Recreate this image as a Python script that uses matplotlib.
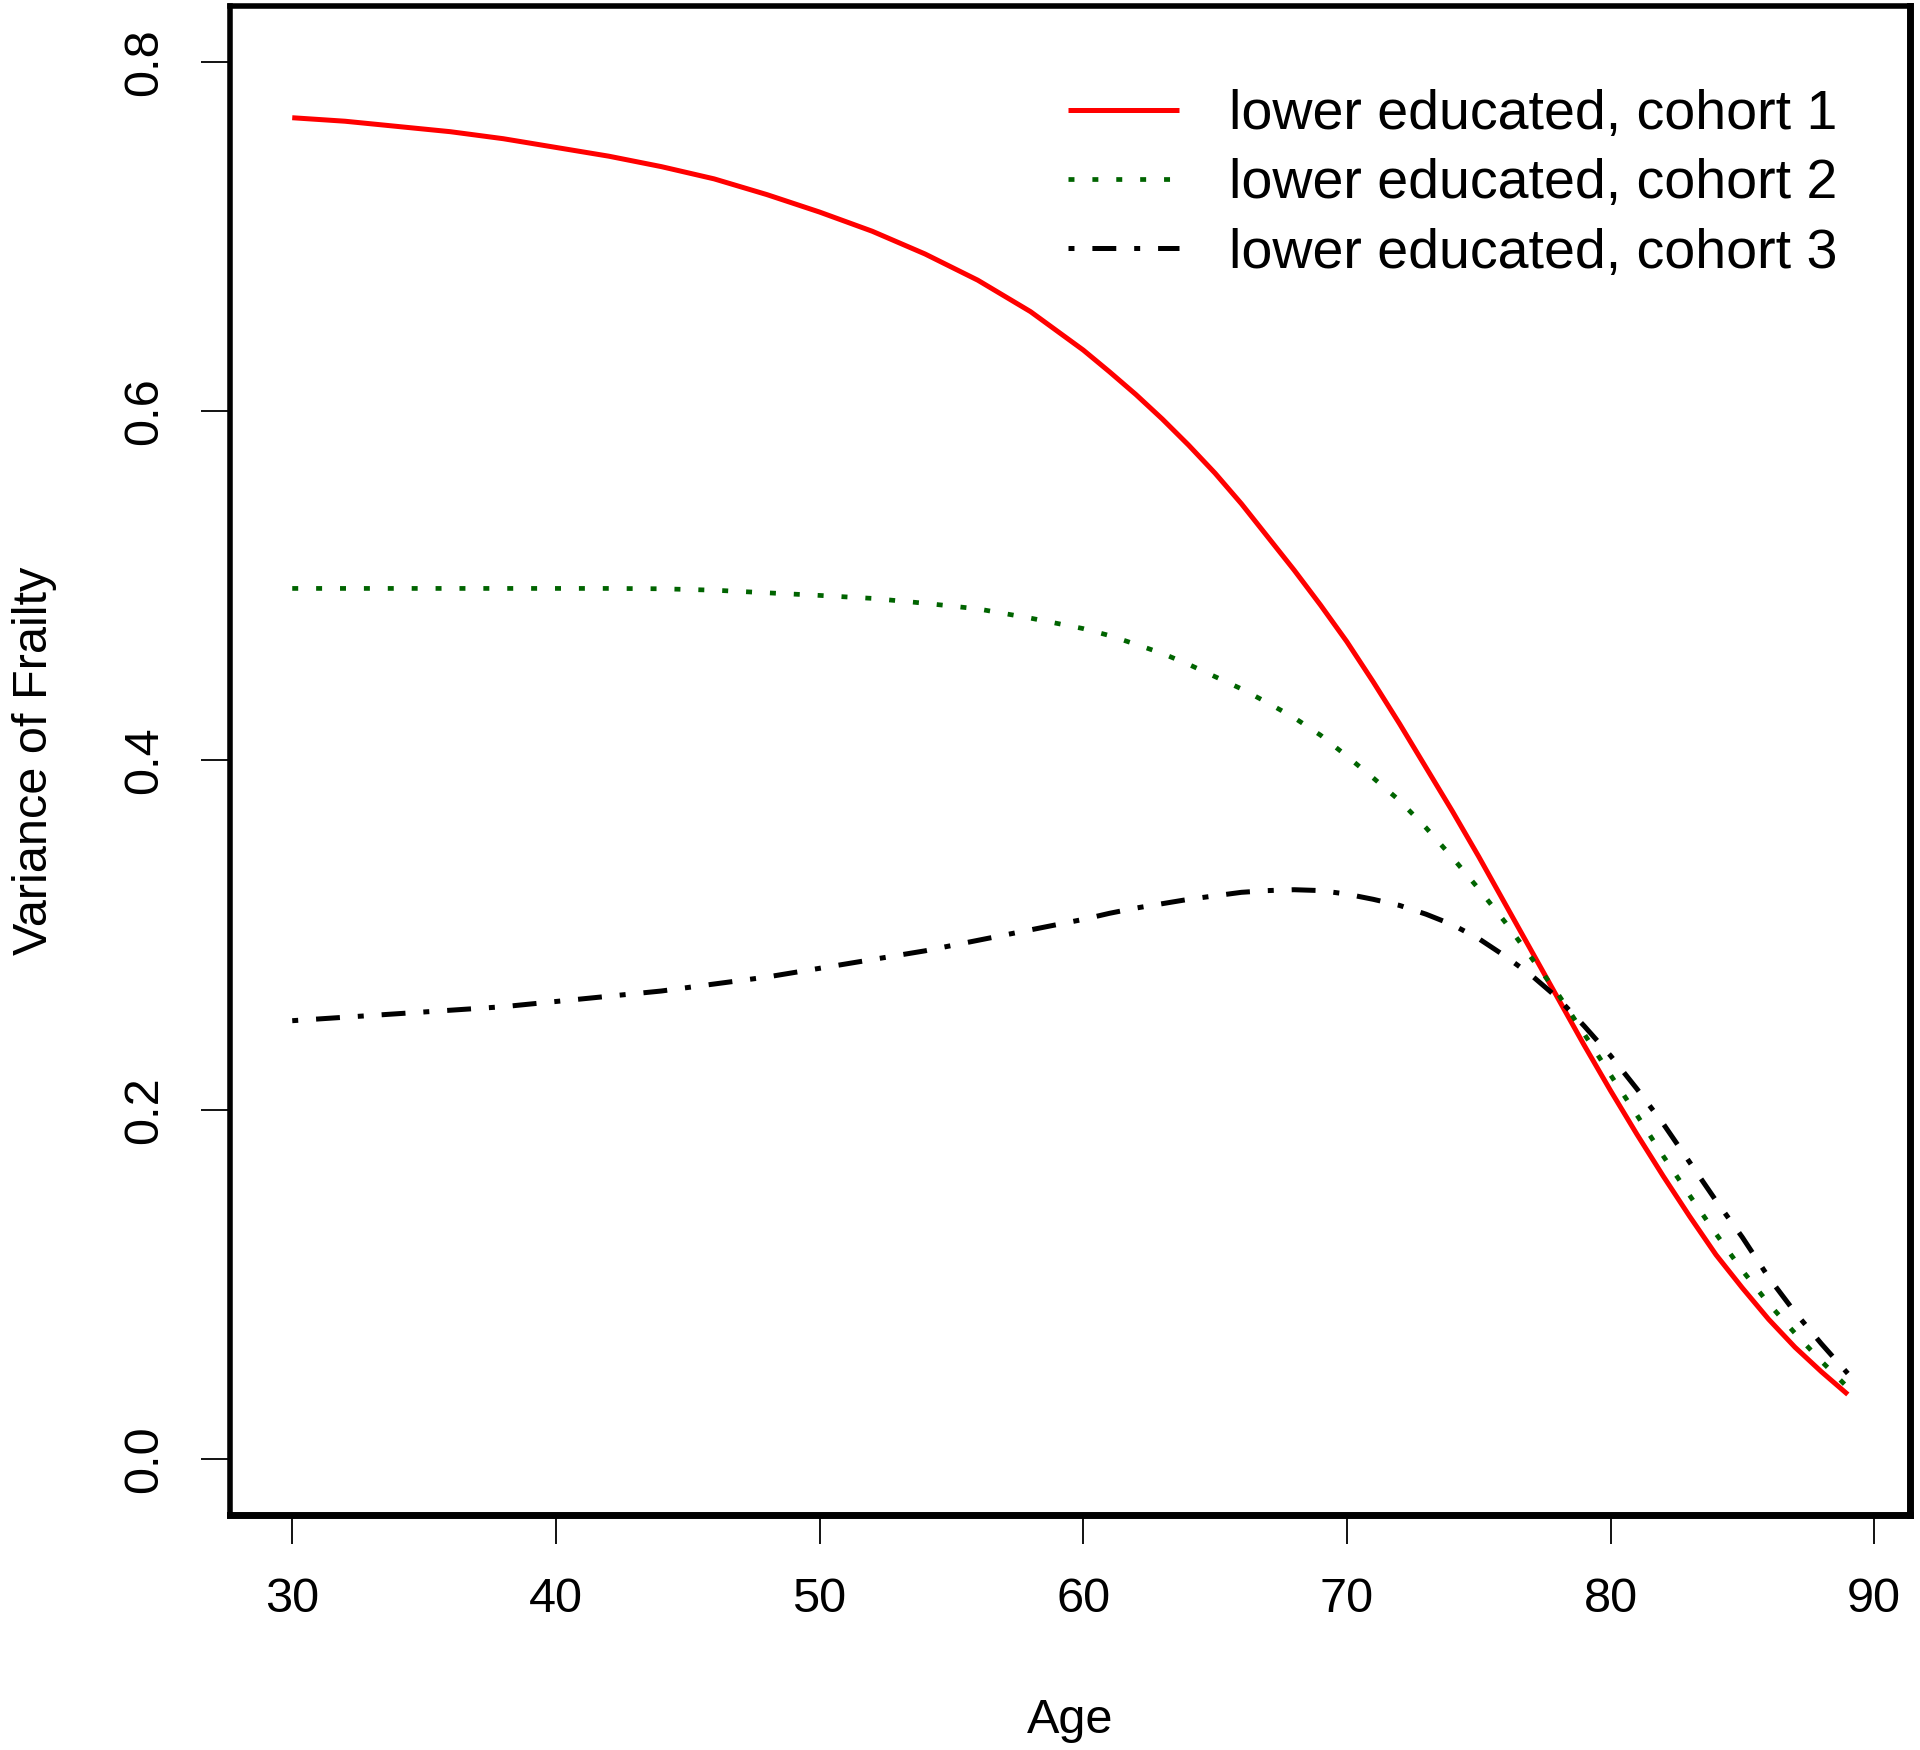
import numpy as np
import matplotlib
matplotlib.use("Agg")
import matplotlib.pyplot as plt

plt.rcParams['font.family'] = ['Liberation Sans', 'DejaVu Sans']
plt.rcParams['lines.scale_dashes'] = False

# ages (x) and variance of frailty for each cohort
ages = [30, 32, 34, 36, 38, 40, 42, 44, 46, 48, 50, 52, 54, 56, 58, 60,
        61, 62, 63, 64, 65, 66, 67, 68, 69, 70, 71, 72, 73, 74, 75, 76, 77,
        78, 79, 80, 81, 82, 83, 84, 85, 86, 87, 88, 89]

cohort1 = [0.768, 0.766, 0.763, 0.760, 0.756, 0.751, 0.746, 0.740, 0.733, 0.724,
           0.714, 0.703, 0.690, 0.675, 0.657, 0.635,
           0.6225, 0.6095, 0.5955, 0.5805, 0.5645, 0.547, 0.528, 0.509, 0.489, 0.468,
           0.445, 0.421, 0.396, 0.371, 0.345, 0.318, 0.291, 0.264, 0.237, 0.211,
           0.186, 0.162, 0.139, 0.117, 0.098, 0.080, 0.064, 0.050, 0.037]

cohort2 = [0.4985, 0.4985, 0.4985, 0.4985, 0.4985, 0.4985, 0.4985, 0.4983, 0.4975, 0.496,
           0.4945, 0.4928, 0.4900, 0.4868, 0.4815, 0.4755,
           0.4715, 0.4665, 0.4613, 0.455, 0.448, 0.441, 0.433, 0.4245, 0.4145, 0.4025,
           0.390, 0.377, 0.3615, 0.3445, 0.3265, 0.3075, 0.287, 0.2665, 0.2435, 0.220,
           0.197, 0.1735, 0.151, 0.129, 0.108, 0.089, 0.072, 0.056, 0.041]

cohort3 = [0.251, 0.253, 0.255, 0.257, 0.259, 0.262, 0.265, 0.268, 0.272, 0.276,
           0.281, 0.286, 0.291, 0.297, 0.303, 0.309,
           0.3125, 0.3155, 0.318, 0.3205, 0.3225, 0.3245, 0.3255, 0.326, 0.3255, 0.3235,
           0.3205, 0.317, 0.312, 0.306, 0.298, 0.288, 0.277, 0.264, 0.248, 0.231,
           0.212, 0.192, 0.170, 0.148, 0.127, 0.104, 0.084, 0.066, 0.049]

labels = ["lower educated, cohort 1", "lower educated, cohort 2", "lower educated, cohort 3"]
x_ticks = [30, 40, 50, 60, 70, 80, 90]
y_ticks = [0.0, 0.2, 0.4, 0.6, 0.8]

fig = plt.figure(figsize=(19.2, 17.5), dpi=100)
ax = fig.add_axes([0.1198, 0.1343, 0.875, 0.8623])

u = 4.3  # R line-type unit in points
ax.plot(ages, cohort1, color='#ff0000', lw=3.6, solid_capstyle='butt', label=labels[0])
ax.plot(ages, cohort2, color='#006400', lw=3.4, linestyle=(0, (u, 3 * u)), label=labels[1])
ax.plot(ages, cohort3, color='black', lw=3.6, linestyle=(0, (u, 3 * u, 4 * u, 3 * u)), label=labels[2])

# R-style axis extension (4%)
ax.set_xlim(30 - 0.04 * 59, 89 + 0.04 * 59)
ax.set_ylim(-0.032, 0.832)

ax.set_xticks(x_ticks)
ax.set_yticks(y_ticks)
ax.set_xticklabels([str(t) for t in x_ticks])
ax.set_yticklabels([f"{t:.1f}" for t in y_ticks])
ax.tick_params(direction='out', length=21, width=1.3, pad=24, labelsize=35)
for lbl in ax.get_yticklabels():
    lbl.set_rotation(90)
    lbl.set_va('center')

for side in ['left', 'top']:
    ax.spines[side].set_linewidth(4.0)
for side in ['right', 'bottom']:
    ax.spines[side].set_linewidth(5.0)

ax.set_xlabel("Age", fontsize=35)
ax.set_ylabel("Variance of Frailty", fontsize=35)
ax.xaxis.set_label_coords(0.5, -0.121)
ax.yaxis.set_label_coords(-0.103, 0.5)

ax.legend(loc='upper left', bbox_to_anchor=(0.556, 0.949), bbox_transform=fig.transFigure,
          frameon=False, fontsize=40, handlelength=2.0, handletextpad=0.9,
          labelspacing=0.31, borderpad=0, borderaxespad=0)

fig.savefig("out.png", dpi=100)
